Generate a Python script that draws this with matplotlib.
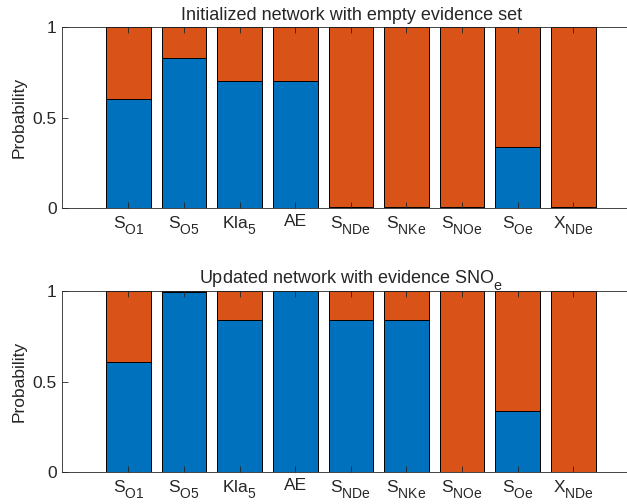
import matplotlib
matplotlib.use('Agg')
import matplotlib.pyplot as plt
import numpy as np
from matplotlib import _mathtext

plt.rcParams['font.family'] = 'Liberation Sans'
plt.rcParams['mathtext.fontset'] = 'custom'
plt.rcParams['mathtext.rm'] = 'Liberation Sans'
plt.rcParams['mathtext.it'] = 'Liberation Sans'
# MATLAB drops its subscripts lower than mathtext does
_mathtext.FontConstantsBase.sub1 = 0.75
_mathtext.FontConstantsBase.sub2 = 0.9
_mathtext.SHRINK_FACTOR = 0.8

# variable names shown on the x axis
labels = [r'$\mathregular{S_{O1}}$', r'$\mathregular{S_{O5}}$', r'$\mathregular{Kla_5}$', 'AE',
          r'$\mathregular{S_{NDe}}$', r'$\mathregular{S_{NKe}}$', r'$\mathregular{S_{NOe}}$',
          r'$\mathregular{S_{Oe}}$', r'$\mathregular{X_{NDe}}$']

# probability of first state (blue), rest is second state (orange)
p_init = [0.606, 0.829, 0.703, 0.703, 0.005, 0.005, 0.005, 0.339, 0.005]
p_upd = [0.606, 0.994, 0.840, 1.0, 0.840, 0.840, 0.0, 0.337, 0.0]

titles = ['Initialized network with empty evidence set',
          r'Updated network with evidence SNO$\mathregular{_e}$']

blue = '#0072BD'
orange = '#D95319'

fig = plt.figure(figsize=(6.27, 5.04), dpi=100)
W, H = 627.0, 504.0
ax1 = fig.add_axes([62.3/W, 1-208.3/H, (640-62.3)/W, 181/H])
ax2 = fig.add_axes([62.3/W, 1-472.3/H, (640-62.3)/W, 181.6/H])

x = np.arange(1, len(labels)+1)
for ax, p, t in zip([ax1, ax2], [p_init, p_upd], titles):
    p = np.array(p)
    ax.bar(x, p, 0.8, color=blue, edgecolor='black', linewidth=0.7)
    ax.bar(x, 1-p, 0.8, bottom=p, color=orange, edgecolor='black', linewidth=0.7)
    ax.set_xlim(-0.19, 10.2)
    ax.set_ylim(0, 1)
    ax.set_xticks(x)
    ax.set_xticklabels(labels, fontsize=12.5)
    ax.set_yticks([0, 0.5, 1])
    ax.set_yticklabels(['0', '0.5', '1'], fontsize=12.5)
    ax.tick_params(direction='in', top=True, right=False, length=4, width=0.6, colors='#262626', pad=4)
    ax.set_ylabel('Probability', fontsize=12.5, color='#262626', labelpad=4)
    ax.set_title(t, fontsize=13, color='#262626', pad=5)
    for s in ax.spines.values():
        s.set_color('#262626')
        s.set_linewidth(0.6)
    ax.spines['right'].set_visible(False)

fig.savefig('out.png', dpi=100)
